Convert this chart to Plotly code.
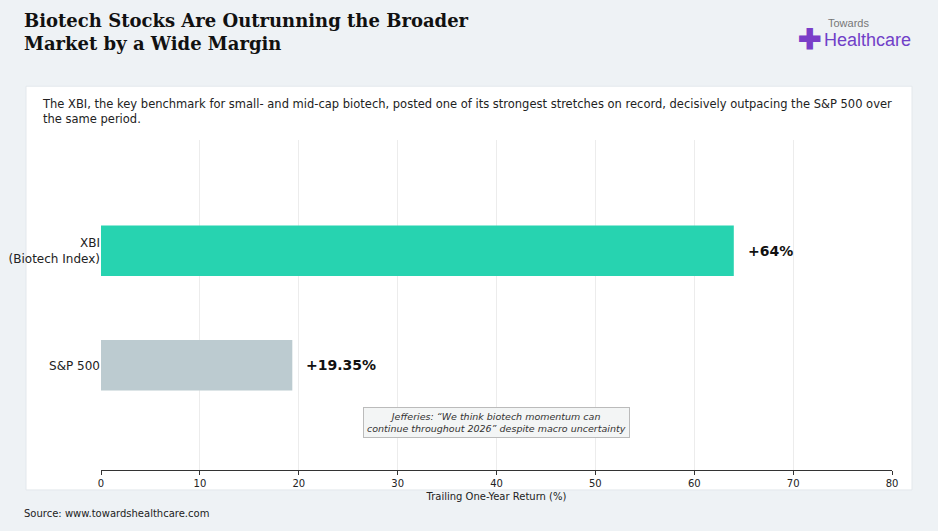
import plotly.graph_objects as go

categories = ["S&P 500", "XBI<br>(Biotech Index)"]
values = [19.35, 64]
labels = ["+19.35%", "+64%"]
colors = ["#bccbd0", "#27d3b0"]
ticks = [0, 10, 20, 30, 40, 50, 60, 70, 80]

fig = go.Figure(go.Bar(y=categories, x=values, orientation="h", marker_color=colors,
                       width=0.44, marker_line_width=0, hoverinfo="skip"))
for c, v, l in zip(categories, values, labels):
    fig.add_annotation(x=v, y=c, text="<b>%s</b>" % l, showarrow=False, xanchor="left",
                       xshift=12, font=dict(size=14, color="#111", family="DejaVu Sans"))

fig.add_shape(type="rect", xref="paper", yref="paper", x0=-0.0948, x1=1.0253, y0=-0.0604, y1=1.163,
              fillcolor="white", line=dict(color="#e3e8ec", width=1), layer="below")
fig.add_annotation(xref="paper", yref="paper", x=-0.0948, y=1.40, xanchor="left", yanchor="top", xshift=-4,
                   text="<b>Biotech Stocks Are Outrunning the Broader<br>Market by a Wide Margin</b>",
                   showarrow=False, align="left", font=dict(family="DejaVu Serif", size=18, color="#111"))
fig.add_annotation(xref="paper", yref="paper", x=-0.0948, y=1.135, xanchor="left", yanchor="top", xshift=14,
                   text="The XBI, the key benchmark for small- and mid-cap biotech, posted one of its strongest stretches on record, decisively outpacing the S&P 500 over<br>the same period.",
                   showarrow=False, align="left", font=dict(family="DejaVu Sans", size=11.5, color="#222"))
fig.add_annotation(x=40, y=-0.496, text="<i>Jefferies: “We think biotech momentum can<br>continue throughout 2026” despite macro uncertainty</i>",
                   showarrow=False, bgcolor="#f3f5f5", bordercolor="#bbbbbb", borderwidth=1, borderpad=3,
                   font=dict(family="DejaVu Sans", size=9.5, color="#333"))
fig.add_annotation(xref="paper", yref="paper", x=-0.0948, y=-0.11, xanchor="left", yanchor="top", xshift=-4,
                   text="Source: www.towardshealthcare.com", showarrow=False,
                   font=dict(family="DejaVu Sans", size=10, color="#222"))
# logo
fig.add_annotation(xref="paper", yref="paper", x=0.917, y=1.38, xanchor="left", yanchor="top",
                   text="Towards", showarrow=False, font=dict(family="Liberation Sans", size=11, color="#777"))
fig.add_annotation(xref="paper", yref="paper", x=0.912, y=1.34, xanchor="left", yanchor="top",
                   text="Healthcare", showarrow=False, font=dict(family="Liberation Sans", size=18, color="#7040c8"))
fig.add_annotation(xref="paper", yref="paper", x=0.896, y=1.31, xanchor="center", yanchor="middle",
                   text="<b>✚</b>", showarrow=False, font=dict(size=28, color="#7a3ec8"))

fig.update_layout(
    width=938, height=531, margin=dict(l=101, r=46, t=140, b=61, autoexpand=False),
    paper_bgcolor="#eef2f5", plot_bgcolor="white", showlegend=False,
    xaxis=dict(range=[0, 80], tickvals=ticks, showgrid=True, gridcolor="#ececec", zeroline=False,
               showline=True, linecolor="#333", ticks="outside", ticklen=4, tickcolor="#333",
               automargin=False,
               tickfont=dict(family="DejaVu Sans", size=10, color="#222"),
               title=dict(text="Trailing One-Year Return (%)", standoff=4,
                          font=dict(family="DejaVu Sans", size=10, color="#222"))),
    yaxis=dict(range=[-0.913, 1.965], showgrid=False, ticks="", ticklen=0, automargin=False,
               tickfont=dict(family="DejaVu Sans", size=12, color="#222")),
)
fig.write_html("out.html", config={"displayModeBar": False})
with open("out.html", encoding="utf-8") as f:
    html = f.read()
html = html.replace("<body>", "<body style=\"margin:0;overflow:hidden\">", 1)
with open("out.html", "w", encoding="utf-8") as f:
    f.write(html)
